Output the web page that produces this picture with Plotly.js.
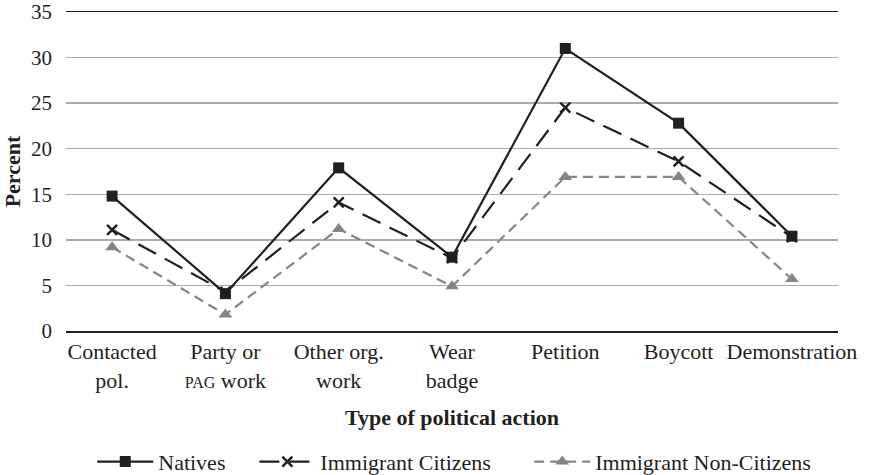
<!DOCTYPE html>
<html>
<head>
<meta charset="utf-8">
<script src="https://cdn.plot.ly/plotly-3.0.1.min.js"></script>
<style>html,body{margin:0;padding:0;background:#fff;}#chart{width:878px;height:475px;}</style>
</head>
<body>
<div id="chart"></div>
<script>
const categories = [
  "Contacted<br>pol.",
  "Party or<br><span style=\"font-size:16px\">PAG</span> work",
  "Other org.<br>work",
  "Wear<br>badge",
  "Petition",
  "Boycott",
  "Demonstration"
];
const natives = [14.8, 4.1, 17.9, 8.1, 31.0, 22.8, 10.4];
const immigrantCitizens = [11.1, 4.3, 14.1, 8.0, 24.5, 18.6, 10.3];
const immigrantNonCitizens = [9.2, 1.8, 11.2, 4.9, 16.9, 16.9, 5.7];
const yTicks = [0, 5, 10, 15, 20, 25, 30, 35];

const dark = "#231f20";
const grey = "#858585";
const serif = "\"Liberation Serif\", \"Times New Roman\", serif";

const traces = [
  {
    x: categories, y: natives, name: "Natives", type: "scatter", mode: "lines+markers",
    legend: "legend",
    line: {color: dark, width: 2.2},
    marker: {symbol: "square", size: 11, color: dark}
  },
  {
    x: categories, y: immigrantCitizens, name: "Immigrant Citizens", type: "scatter", mode: "lines+markers",
    legend: "legend2",
    line: {color: dark, width: 2.2, dash: "20px,10px"},
    marker: {symbol: "x-thin-open", size: 10, color: dark, line: {color: dark, width: 2.5}}
  },
  {
    x: categories, y: immigrantNonCitizens, name: "Immigrant Non-Citizens", type: "scatter", mode: "lines+markers",
    legend: "legend3",
    line: {color: grey, width: 2.2, dash: "10px,6px"},
    marker: {symbol: "triangle-up", size: 12, color: grey}
  }
];

function legendAt(xPaper) {
  return {
    orientation: "h", x: xPaper, xanchor: "left", y: -0.41, yanchor: "middle",
    font: {family: serif, size: 22, color: dark}, itemwidth: 56,
    bgcolor: "rgba(0,0,0,0)"
  };
}

const layout = {
  width: 878, height: 475,
  margin: {l: 66, r: 40, t: 12, b: 144, autoexpand: false},
  paper_bgcolor: "#fff", plot_bgcolor: "#fff",
  font: {family: serif, color: dark, size: 22},
  showlegend: true,
  legend: legendAt(0.034),
  legend2: legendAt(0.244),
  legend3: legendAt(0.600),
  xaxis: {
    type: "category",
    showgrid: false, zeroline: false,
    showline: true, mirror: true, linecolor: dark, linewidth: 1.5,
    ticks: "", tickfont: {family: serif, size: 22, color: dark},
    title: {text: "<b>Type of political action</b>", font: {family: serif, size: 22, color: dark}, standoff: 18},
    automargin: false, fixedrange: true
  },
  yaxis: {
    range: [0, 35], tickvals: yTicks, ticktext: yTicks.map(String),
    showgrid: true, gridcolor: "#aaaaaa", gridwidth: 1.3,
    zeroline: false, showline: false,
    ticks: "", ticklabelstandoff: 13,
    tickfont: {family: serif, size: 21, color: dark},
    title: {text: "<b>Percent</b>", font: {family: serif, size: 22, color: dark}, standoff: 8},
    automargin: false, fixedrange: true
  }
};

Plotly.newPlot("chart", traces, layout, {displayModeBar: false, staticPlot: true});
</script>
</body>
</html>
